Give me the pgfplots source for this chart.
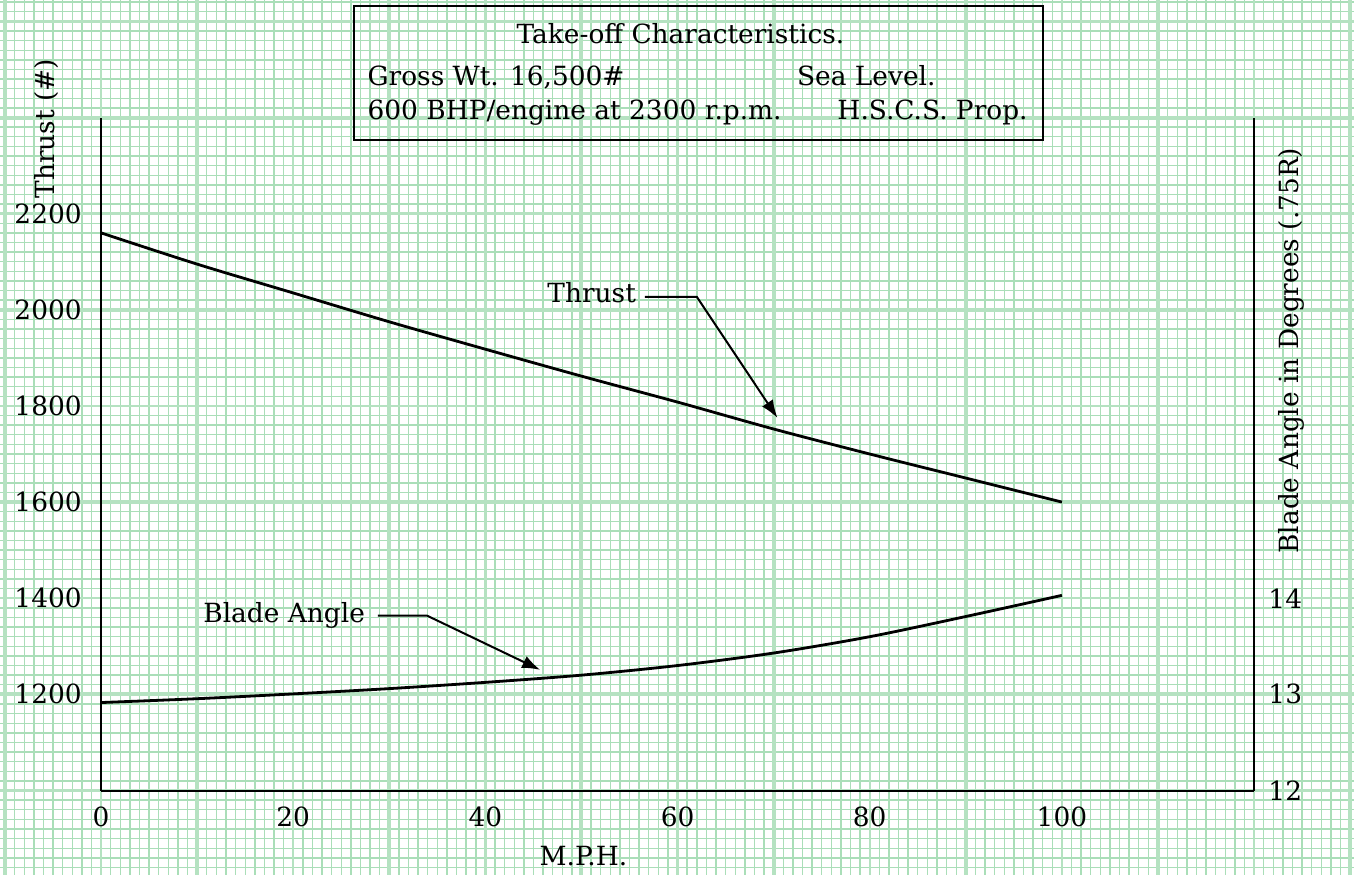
\documentclass[border=0pt]{standalone}
\usepackage{fontspec}
\setmainfont{DejaVu Serif}
\usepackage{pgfplots}
\usepackage{pgfplotstable}
\pgfplotsset{compat=1.18}
\usetikzlibrary{arrows.meta}
\definecolor{paper}{RGB}{181,226,193}
\definecolor{paperminor}{RGB}{170,222,184}
\newcommand{\tf}{\fontsize{13.2}{16}\selectfont}

\pgfplotstableread{
mph thrust
0   2160
10  2095
20  2035
30  1975
40  1918
50  1862
60  1808
70  1752
80  1700
90  1650
100 1600
}\thrusttab

\pgfplotstableread{
mph deg
0   12.915
10  12.955
20  13.005
30  13.060
40  13.125
50  13.200
60  13.300
70  13.430
80  13.600
90  13.810
100 14.030
}\bladetab

\begin{document}
\begin{tikzpicture}
\begin{axis}[
  scale only axis, width=576.5pt, height=336.5pt,
  xmin=0, xmax=120, ymin=1000, ymax=2400,
  clip=false, axis on top,
  axis x line*=bottom, axis y line*=left,
  axis line style={line width=1pt, black},
  xtick={0,20,...,100}, ytick={1200,1400,...,2200},
  major tick length=0pt,
  tick label style={font=\tf},
  /pgf/number format/1000 sep={}, /pgf/number format/assume math mode=true,
  scaled ticks=false,
  xticklabel style={inner sep=0pt, yshift=-8pt},
  yticklabel style={inner sep=0pt, xshift=-9.5pt},
]
% graph paper
\pgfplotsinvokeforeach{-10,-9,...,130}{\draw[paperminor, line width=0.7pt] (axis cs:#1,825) -- (axis cs:#1,2644.5);}
\pgfplotsinvokeforeach{840,860,...,2640}{\draw[paperminor, line width=0.7pt] (axis cs:-10.52,#1) -- (axis cs:130.4,#1);}
\pgfplotsinvokeforeach{0,20,...,120}{\draw[paper, line width=1.25pt] (axis cs:#1,825) -- (axis cs:#1,2644.5);}
\pgfplotsinvokeforeach{1000,1400,...,2600}{\draw[paper, line width=1.25pt] (axis cs:-10.52,#1) -- (axis cs:130.4,#1);}
\pgfplotsinvokeforeach{-10,10,...,130}{\draw[paper, line width=2pt] (axis cs:#1,825) -- (axis cs:#1,2644.5);}
\pgfplotsinvokeforeach{1200,1600,...,2400}{\draw[paper, line width=2pt] (axis cs:-10.52,#1) -- (axis cs:130.4,#1);}
\coordinate (BL) at (axis cs:-10.52,825);
\coordinate (TR) at (axis cs:130.4,2644.5);

\addplot[black, line width=1.4pt, smooth] table[x=mph, y=thrust]{\thrusttab};

% title box
\draw[black, line width=1pt] (axis cs:26.3,2632) rectangle (axis cs:98.0,2353.5);
\node[anchor=base, font=\tf, inner sep=0pt] at (axis cs:60.3,2555) {Take-off Characteristics.};
\node[anchor=base west, font=\tf, inner sep=0pt] at (axis cs:27.7,2466) {Gross Wt. 16,500\#};
\node[anchor=base west, font=\tf, inner sep=0pt] at (axis cs:72.4,2466) {Sea Level.};
\node[anchor=base west, font=\tf, inner sep=0pt] at (axis cs:27.7,2395) {600 BHP/engine at 2300 r.p.m.};
\node[anchor=base west, font=\tf, inner sep=0pt] at (axis cs:76.6,2395) {H.S.C.S. Prop.};

% annotations
\node[anchor=base east, font=\tf, inner sep=0pt] at (axis cs:55.7,2014.6) {Thrust};
\draw[black, line width=1pt, -{Latex[length=9pt, width=6.5pt]}] (axis cs:56.6,2027) -- (axis cs:62.0,2027) -- (axis cs:70.4,1775);
\node[anchor=base east, font=\tf, inner sep=0pt] at (axis cs:27.5,1349) {Blade Angle};
\draw[black, line width=1pt, -{Latex[length=9pt, width=6.5pt]}] (axis cs:28.8,1364) -- (axis cs:33.9,1364) -- (axis cs:45.7,1251);

% axis labels
\node[anchor=base, rotate=90, font=\tf, inner sep=0pt] at (axis cs:-4.8,2377) {Thrust (\#)};
\node[anchor=base, rotate=90, font=\tf, inner sep=0pt] at (axis cs:124.6,1915) {Blade Angle in Degrees (.75R)};
\node[anchor=base, font=\tf, inner sep=0pt] at (axis cs:50.2,844) {M.P.H.};
\end{axis}

\begin{axis}[
  scale only axis, width=576.5pt, height=336.5pt,
  xmin=0, xmax=120, ymin=12, ymax=19,
  clip=false,
  axis x line=none, axis y line*=right,
  axis line style={line width=1pt, black},
  ytick={12,13,14},
  major tick length=0pt,
  tick label style={font=\tf},
  /pgf/number format/assume math mode=true,
  yticklabel style={inner sep=0pt, xshift=7pt, anchor=west},
]
\addplot[black, line width=1.4pt, smooth] table[x=mph, y=deg]{\bladetab};
\end{axis}
\pgfresetboundingbox
\useasboundingbox (BL) rectangle (TR);
\end{tikzpicture}
\end{document}
